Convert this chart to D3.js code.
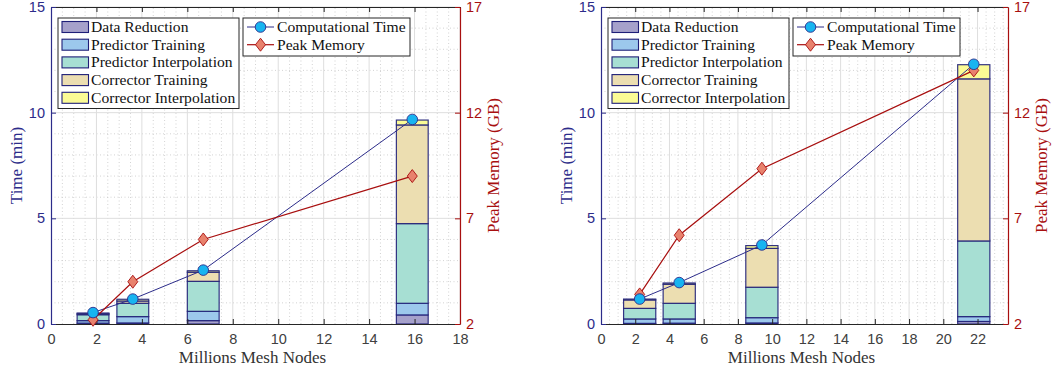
<!DOCTYPE html>
<html>
<head>
<meta charset="utf-8">
<script src="https://cdn.jsdelivr.net/npm/d3@7"></script>
<style>
  body { margin: 0; background: #fff; }
  svg { display: block; }
</style>
</head>
<body>
<svg id="chart" width="1055" height="369"></svg>
<script>
// stage names + colours (legend order = stack order from bottom)
const stages = ["Data Reduction", "Predictor Training", "Predictor Interpolation", "Corrector Training", "Corrector Interpolation"];
const stageColors = ["#a6a1cb", "#9cc8ec", "#a7dfd3", "#ecdeb1", "#fbfb95"];

// left panel
const nodesA = [1.85, 3.6, 6.7, 15.9];
const dataRedA = [0.04, 0.05, 0.16, 0.43];
const predTrainA = [0.12, 0.30, 0.44, 0.55];
const predInterpA = [0.28, 0.63, 1.42, 3.77];
const corrTrainA = [0.05, 0.11, 0.43, 4.67];
const corrInterpA = [0.03, 0.08, 0.07, 0.23];
const timeA = [0.54, 1.18, 2.55, 9.68];
const memA = [2.2, 4.0, 6.0, 9.0];
const xTicksA = [0, 2, 4, 6, 8, 10, 12, 14, 16, 18];

// right panel
const nodesB = [2.26, 4.57, 9.4, 21.78];
const dataRedB = [0.03, 0.04, 0.05, 0.12];
const predTrainB = [0.21, 0.20, 0.25, 0.23];
const predInterpB = [0.50, 0.74, 1.44, 3.58];
const corrTrainB = [0.40, 0.90, 1.84, 7.67];
const corrInterpB = [0.04, 0.06, 0.13, 0.67];
const timeB = [1.18, 1.96, 3.74, 12.29];
const memB = [3.4, 6.2, 9.35, 14.0];
const xTicksB = [0, 2, 4, 6, 8, 10, 12, 14, 16, 18, 20, 22];

const timeTicks = [0, 5, 10, 15];
const memTicks = [2, 7, 12, 17];

const navy = "#2c2c8a", darkRed = "#a80f0f", edge = "#1f1f78";
const svg = d3.select("#chart");

function panel(cfg) {
  const x = d3.scaleLinear().domain([0, cfg.xMax]).range([cfg.left, cfg.right]);
  const y = d3.scaleLinear().domain([0, 15]).range([324, 7]);
  const y2 = d3.scaleLinear().domain([2, 17]).range([324, 7]);
  const g = svg.append("g");

  // grid: minor dotted, major solid
  const grid = g.append("g");
  const minorX = d3.range(0.5, cfg.xMax, 0.5).filter(v => v % 2 !== 0);
  const minorY = d3.range(1, 15, 1).filter(v => v % 5 !== 0);
  grid.selectAll(".mx").data(minorX).join("line")
    .attr("x1", d => x(d)).attr("x2", d => x(d)).attr("y1", y(0)).attr("y2", y(15))
    .attr("stroke", "#c8c8c8").attr("stroke-width", 0.8).attr("stroke-dasharray", "1,2.5");
  grid.selectAll(".my").data(minorY).join("line")
    .attr("x1", x(0)).attr("x2", x(cfg.xMax)).attr("y1", d => y(d)).attr("y2", d => y(d))
    .attr("stroke", "#c8c8c8").attr("stroke-width", 0.8).attr("stroke-dasharray", "1,2.5");
  grid.selectAll(".Mx").data(cfg.xTicks.slice(1)).join("line")
    .attr("x1", d => x(d)).attr("x2", d => x(d)).attr("y1", y(0)).attr("y2", y(15))
    .attr("stroke", "#dedede").attr("stroke-width", 1);
  grid.selectAll(".My").data(timeTicks.slice(1)).join("line")
    .attr("x1", x(0)).attr("x2", x(cfg.xMax)).attr("y1", d => y(d)).attr("y2", d => y(d))
    .attr("stroke", "#dedede").attr("stroke-width", 1);

  // stacked bars
  const rows = cfg.nodes.map((n, i) => {
    const r = { node: n };
    stages.forEach((s, k) => r[s] = cfg.stack[k][i]);
    return r;
  });
  const series = d3.stack().keys(stages)(rows);
  g.append("g").selectAll("g").data(series).join("g")
    .attr("fill", (d, k) => stageColors[k])
    .selectAll("rect").data(d => d).join("rect")
    .attr("x", d => x(d.data.node - cfg.barW / 2))
    .attr("width", d => x(cfg.barW) - x(0))
    .attr("y", d => y(d[1]))
    .attr("height", d => y(d[0]) - y(d[1]))
    .attr("stroke", edge).attr("stroke-width", 1.2).attr("stroke-opacity", 0.9);

  // axes
  const axB = g.append("g").attr("transform", `translate(0,${y(0)})`)
    .call(d3.axisBottom(x).tickValues(cfg.xTicks).tickSize(-5).tickSizeOuter(0).tickPadding(10));
  axB.select(".domain").attr("stroke", "#262626");
  axB.selectAll(".tick line").attr("stroke", "#262626");
  axB.selectAll("text").attr("fill", "#404040").style("font", "14.5px 'Liberation Sans', Arial, sans-serif");

  const axT = g.append("g").attr("transform", `translate(0,${y(15)})`)
    .call(d3.axisTop(x).tickValues(cfg.xTicks).tickSize(-5).tickSizeOuter(0).tickFormat(""));
  axT.select(".domain").attr("stroke", "#262626");
  axT.selectAll(".tick line").attr("stroke", "#262626");

  const axL = g.append("g").attr("transform", `translate(${x(0)},0)`)
    .call(d3.axisLeft(y).tickValues(timeTicks).tickSize(-5).tickSizeOuter(0).tickPadding(6));
  axL.select(".domain").attr("stroke", navy).attr("stroke-width", 1.2);
  axL.selectAll(".tick line").attr("stroke", navy);
  axL.selectAll("text").attr("fill", navy).style("font", "14.5px 'Liberation Sans', Arial, sans-serif");

  const axR = g.append("g").attr("transform", `translate(${x(cfg.xMax)},0)`)
    .call(d3.axisRight(y2).tickValues(memTicks).tickSize(-5).tickSizeOuter(0).tickPadding(6));
  axR.select(".domain").attr("stroke", darkRed).attr("stroke-width", 1.2);
  axR.selectAll(".tick line").attr("stroke", darkRed);
  axR.selectAll("text").attr("fill", darkRed).style("font", "14.5px 'Liberation Sans', Arial, sans-serif");

  // lines
  const timeLine = d3.line().x((d, i) => x(cfg.nodes[i])).y(d => y(d));
  const memLine = d3.line().x((d, i) => x(cfg.nodes[i])).y(d => y2(d));
  g.append("path").datum(cfg.time).attr("d", timeLine)
    .attr("fill", "none").attr("stroke", navy).attr("stroke-width", 1);
  g.append("path").datum(cfg.mem).attr("d", memLine)
    .attr("fill", "none").attr("stroke", darkRed).attr("stroke-width", 1.2);
  const diamond = "M0,-6.5L5,0L0,6.5L-5,0Z";
  g.append("g").selectAll("path").data(cfg.mem).join("path")
    .attr("d", diamond)
    .attr("transform", (d, i) => `translate(${x(cfg.nodes[i])},${y2(d)})`)
    .attr("fill", "#e8826d").attr("stroke", darkRed).attr("stroke-width", 0.9);
  g.append("g").selectAll("circle").data(cfg.time).join("circle")
    .attr("cx", (d, i) => x(cfg.nodes[i])).attr("cy", d => y(d)).attr("r", 5.3)
    .attr("fill", "#18b4f0").attr("stroke", navy).attr("stroke-width", 0.9);

  // axis titles
  const serif = "'Liberation Serif', 'Times New Roman', serif";
  g.append("text").attr("x", (x(0) + x(cfg.xMax)) / 2 - 3).attr("y", 363)
    .attr("text-anchor", "middle").attr("fill", "#333")
    .style("font", `17px ${serif}`).text("Millions Mesh Nodes");
  g.append("text").attr("transform", `translate(${x(0) - 29},165.5) rotate(-90)`)
    .attr("text-anchor", "middle").attr("fill", navy)
    .style("font", `17px ${serif}`).text("Time (min)");
  g.append("text").attr("transform", `translate(${x(cfg.xMax) + 39},165.5) rotate(-90)`)
    .attr("text-anchor", "middle").attr("fill", darkRed)
    .style("font", `17px ${serif}`).text("Peak Memory (GB)");

  // legend 1 : stages
  const lx = x(0) + 7, ly = 18;
  const leg1 = g.append("g");
  leg1.append("rect").attr("x", lx).attr("y", ly).attr("width", 181).attr("height", 90.5)
    .attr("fill", "#fff").attr("stroke", "#262626").attr("stroke-width", 1);
  stages.forEach((s, k) => {
    const cy = ly + 9 + k * 17.7;
    leg1.append("rect").attr("x", lx + 4).attr("y", cy - 5.5).attr("width", 26.5).attr("height", 11)
      .attr("fill", stageColors[k]).attr("stroke", edge).attr("stroke-width", 1.1);
    leg1.append("text").attr("x", lx + 33).attr("y", cy + 5)
      .attr("fill", "#111").style("font", `15.6px ${serif}`).text(s);
  });

  // legend 2 : lines
  const l2x = lx + 185;
  const leg2 = g.append("g");
  leg2.append("rect").attr("x", l2x).attr("y", ly).attr("width", 167).attr("height", 38)
    .attr("fill", "#fff").attr("stroke", "#262626").attr("stroke-width", 1);
  [["Computational Time", navy], ["Peak Memory", darkRed]].forEach(([name, col], k) => {
    const cy = ly + 9 + k * 17.7;
    leg2.append("line").attr("x1", l2x + 4).attr("x2", l2x + 31).attr("y1", cy).attr("y2", cy)
      .attr("stroke", col).attr("stroke-width", k ? 1.2 : 1);
    if (k === 0) {
      leg2.append("circle").attr("cx", l2x + 17.5).attr("cy", cy).attr("r", 5.3)
        .attr("fill", "#18b4f0").attr("stroke", navy).attr("stroke-width", 0.9);
    } else {
      leg2.append("path").attr("d", diamond).attr("transform", `translate(${l2x + 17.5},${cy})`)
        .attr("fill", "#e8826d").attr("stroke", darkRed).attr("stroke-width", 0.9);
    }
    leg2.append("text").attr("x", l2x + 34).attr("y", cy + 5)
      .attr("fill", "#111").style("font", `15.6px ${serif}`).text(name);
  });
}

panel({
  left: 51, right: 460, xMax: 18, xTicks: xTicksA, barW: 1.4,
  nodes: nodesA, stack: [dataRedA, predTrainA, predInterpA, corrTrainA, corrInterpA],
  time: timeA, mem: memA
});
panel({
  left: 601, right: 1008, xMax: 23.78, xTicks: xTicksB, barW: 1.88,
  nodes: nodesB, stack: [dataRedB, predTrainB, predInterpB, corrTrainB, corrInterpB],
  time: timeB, mem: memB
});
</script>
</body>
</html>
